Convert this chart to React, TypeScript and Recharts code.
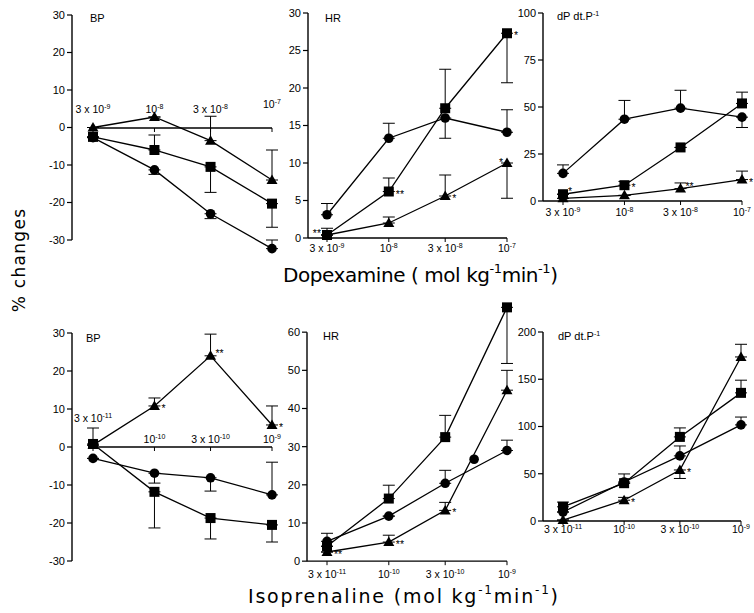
import React from 'react';
import { ComposedChart, Line, XAxis, YAxis, ErrorBar, LabelList, ReferenceLine } from 'recharts';

// ---------- Dopexamine (top row) ----------
const dopexamineDoses = [3e-9, 1e-8, 3e-8, 1e-7];
const dopexamineTickPrefix = ['3 x 10', '10', '3 x 10', '10'];
const dopexamineTickExponent = ['-9', '-8', '-8', '-7'];

const dopaBpCircle = [-2.7, -11.3, -23, -32.3];
const dopaBpCircleErr = [[0, 0], [1.2, 0], [1.3, 0], [0, 2.3]];
const dopaBpSquare = [-2.5, -6, -10.5, -20.3];
const dopaBpSquareErr = [[0, 0], [0, 4], [6.8, 0], [6.3, 0]];
const dopaBpTriangle = [0, 2.8, -3.5, -14];
const dopaBpTriangleErr = [[0, 0], [0, 0], [0, 6.5], [0, 8]];
const dopaBpCircleSig = ['', '', '', ''];
const dopaBpSquareSig = ['', '', '', ''];
const dopaBpTriangleSig = ['', '', '', ''];

const dopaHrCircle = [3.1, 13.3, 16, 14.1];
const dopaHrCircleErr = [[0, 1.5], [0, 2], [2.7, 0], [0, 3]];
const dopaHrSquare = [0.4, 6.2, 17.3, 27.3];
const dopaHrSquareErr = [[0, 0.9], [0, 1.8], [0, 5.2], [6.6, 0]];
const dopaHrTriangle = [0.4, 2, 5.6, 10];
const dopaHrTriangleErr = [[0, 0], [0, 0.8], [0, 2.8], [4.7, 0]];
const dopaHrCircleSig = ['', '', '', ''];
const dopaHrSquareSig = ['**', '**', '', '*'];
const dopaHrTriangleSig = ['', '', '*', '*'];

const dopaDpCircle = [14.7, 43.5, 49.4, 44.6];
const dopaDpCircleErr = [[0, 4.5], [0, 10], [0, 9.5], [5.5, 0]];
const dopaDpSquare = [3.6, 8.4, 28.5, 51.9];
const dopaDpSquareErr = [[0, 0], [0, 2], [0, 0], [0, 6]];
const dopaDpTriangle = [1.4, 3, 6.6, 11.4];
const dopaDpTriangleErr = [[0, 0], [0, 0], [0, 3], [0, 4.5]];
const dopaDpCircleSig = ['', '', '', ''];
const dopaDpSquareSig = ['*', '*', '', ''];
const dopaDpTriangleSig = ['', '', '**', '*'];

// ---------- Isoprenaline (bottom row) ----------
const isoprenalineDoses = [3e-11, 1e-10, 3e-10, 1e-9];
const isoprenalineTickPrefix = ['3 x 10', '10', '3 x 10', '10'];
const isoprenalineTickExponent = ['-11', '-10', '-10', '-9'];

const isoBpCircle = [-3, -6.9, -8.1, -12.6];
const isoBpCircleErr = [[0, 0], [2.6, 0], [3.5, 0], [0, 8.6]];
const isoBpSquare = [0.8, -11.8, -18.7, -20.5];
const isoBpSquareErr = [[0, 4.2], [9.5, 0], [5.5, 0], [4.5, 0]];
const isoBpTriangle = [0.5, 10.8, 24, 5.8];
const isoBpTriangleErr = [[0, 0], [0, 2.1], [0, 5.7], [0, 5]];
const isoBpCircleSig = ['', '', '', ''];
const isoBpSquareSig = ['', '', '', ''];
const isoBpTriangleSig = ['', '*', '**', '*'];

const isoHrCircle = [5.2, 11.8, 20.4, 29];
const isoHrCircleErr = [[0, 2.1], [0, 0], [0, 3.4], [0, 2.7]];
const isoHrSquare = [3.9, 16.4, 32.5, 66.5];
const isoHrSquareErr = [[0, 0], [0, 3.5], [0, 5.7], [14.7, 0]];
const isoHrTriangle = [2.4, 5, 13.3, 44.8];
const isoHrTriangleErr = [[0, 0], [0, 1.8], [0, 2.1], [0, 5.2]];
const isoHrCircleSig = ['', '', '', ''];
const isoHrSquareSig = ['', '', '', ''];
const isoHrTriangleSig = ['**', '**', '*', ''];
const isoHrStrayDose = [5.27e-10];
const isoHrStrayCircle = [26.7];

const isoDpCircle = [9.5, 41.3, 68.9, 101.7];
const isoDpCircleErr = [[0, 0], [0, 8.5], [0, 10.5], [0, 8.3]];
const isoDpSquare = [15, 40, 89, 135.6];
const isoDpSquareErr = [[0, 5], [0, 0], [0, 9.5], [0, 13.4]];
const isoDpTriangle = [1, 22, 54, 173.6];
const isoDpTriangleErr = [[0, 0], [0, 3], [9, 0], [0, 13.4]];
const isoDpCircleSig = ['', '', '', ''];
const isoDpSquareSig = ['', '', '', ''];
const isoDpTriangleSig = ['', '*', '*', ''];

const bpTicks = [-30, -20, -10, 0, 10, 20, 30];
const dopaHrTicks = [0, 5, 10, 15, 20, 25, 30];
const dopaDpTicks = [0, 25, 50, 75, 100];
const isoHrTicks = [0, 10, 20, 30, 40, 50, 60];
const isoDpTicks = [0, 50, 100, 150, 200];

function buildRows(doses, c, cE, cS, s, sE, sS, t, tE, tS) {
  return doses.map((dose, i) => ({
    dose,
    circle: c[i], circleErr: cE[i], circleSig: cS[i],
    square: s[i], squareErr: sE[i], squareSig: sS[i],
    triangle: t[i], triangleErr: tE[i], triangleSig: tS[i],
  }));
}

const FONT = 'Liberation Sans, Arial, sans-serif';

function makeDot(shape) {
  return (props) => {
    const { cx, cy, index } = props;
    const k = `${shape}-${index}`;
    if (cx == null || cy == null || Number.isNaN(cy)) return <g key={k} />;
    if (shape === 'circle') return <circle key={k} cx={cx} cy={cy} r={4.8} fill="#000" />;
    if (shape === 'square') return <rect key={k} x={cx - 5} y={cy - 5} width={10} height={10} fill="#000" />;
    return <polygon key={k} points={`${cx},${cy - 5.5} ${cx + 5.5},${cy + 4} ${cx - 5.5},${cy + 4}`} fill="#000" />;
  };
}

function makeSig(series, placement) {
  return (props) => {
    const { x, y, value, index } = props;
    if (!value || x == null || y == null) return null;
    const pos = (placement && placement[`${series}-${index}`]) || 'right';
    let tx = x + 7, ty = y + 6, anchor = 'start';
    if (pos === 'left') { tx = x - 6; ty = y + 2; anchor = 'end'; }
    if (pos === 'upperLeft') { tx = x - 4; ty = y + 3; anchor = 'end'; }
    if (pos === 'upperRight') { tx = x + 5; ty = y + 1; }
    return (
      <text x={tx} y={ty} textAnchor={anchor} fontSize={10.5} fontFamily={FONT} fill="#000">{value}</text>
    );
  };
}

function DoseTick(props) {
  const { x, y, payload, doses, prefixes, exps, mode, baseline, overrides, tickSize } = props;
  const i = doses.findIndex((d) => Math.abs(d - payload.value) / d < 1e-6);
  if (i < 0) return <g />;
  const axisY = y - tickSize;
  const off = overrides && overrides[i] != null ? overrides[i] : baseline;
  return (
    <g>
      {mode === 'zero' && <line x1={x} y1={axisY} x2={x} y2={axisY + 4} stroke="#000" strokeWidth={1} />}
      <text x={x} y={axisY + off} textAnchor="middle" fontSize={10.5} fontFamily={FONT} fill="#000">
        <tspan>{prefixes[i]}</tspan>
        <tspan dy={-4} fontSize={7}>{exps[i]}</tspan>
      </text>
    </g>
  );
}

const YW = 40;
const MR = 16;

function Panel(p) {
  const first = p.doses[0];
  const hi = p.doses[p.doses.length - 1];
  const ppd = (p.lastX - p.firstX) / (Math.log10(hi) - Math.log10(first));
  const lo = Math.pow(10, Math.log10(first) - (p.firstX - p.axisX) / ppd);
  const [tMin, tMax] = [p.yTicks[0], p.yTicks[p.yTicks.length - 1]];
  const pxPerUnit = (p.tickBotPx - p.tickTopPx) / (tMax - tMin);
  const plotTop = p.tickTopPx - (p.yDomain[1] - tMax) * pxPerUnit;
  const plotBot = p.tickBotPx + (tMin - p.yDomain[0]) * pxPerUnit;
  const plotW = p.lastX - p.axisX;
  const MT = 10;
  const bottomAxisH = p.xMode === 'bottom' ? 32 : 0;
  const MB = p.xMode === 'bottom' ? 0 : 10;
  const width = YW + plotW + MR;
  const height = MT + (plotBot - plotTop) + bottomAxisH + MB;

  const zeroY = p.tickTopPx + (tMax - 0) * pxPerUnit;
  const ovStart = p.firstX - 4;
  const lo2 = Math.pow(10, Math.log10(first) - (p.firstX - ovStart) / ppd);
  const OVL = 40;

  const series = [
    { key: 'circle' },
    { key: 'square' },
    { key: 'triangle' },
  ];

  return (
    <>
      <div style={{ position: 'absolute', left: p.axisX - YW, top: plotTop - MT }}>
        <ComposedChart width={width} height={height} data={p.rows}
          margin={{ top: MT, right: MR, left: 0, bottom: MB }} style={{ overflow: 'visible' }}>
          <XAxis dataKey="dose" type="number" scale="log" domain={[lo, hi]} ticks={p.doses}
            hide={p.xMode !== 'bottom'} height={bottomAxisH} interval={0}
            axisLine={{ stroke: '#000', strokeWidth: 1.4 }} tickLine={{ stroke: '#000', strokeWidth: 1 }}
            tickSize={4} tickMargin={0}
            tick={(tp) => (
              <DoseTick {...tp} doses={p.doses} prefixes={p.tickPrefix} exps={p.tickExp}
                mode="bottom" baseline={p.labelBaseline} overrides={p.labelOverrides} tickSize={4} />
            )} />
          <YAxis type="number" domain={p.yDomain} ticks={p.yTicks} width={YW} interval={0}
            axisLine={false} tickSize={5} tickMargin={2}
            tickLine={{ stroke: '#000', strokeWidth: 1.2 }}
            tick={{ fontSize: 11, fill: '#000', fontFamily: FONT }} />
          <ReferenceLine segment={[{ x: lo, y: tMin }, { x: lo, y: tMax }]} stroke="#000" strokeWidth={1.4} ifOverflow="visible" />
          {series.map((s) => (
            <Line key={s.key} dataKey={s.key} stroke="#000" strokeWidth={1.3} dot={makeDot(s.key)}
              activeDot={false} isAnimationActive={false} legendType="none">
              <ErrorBar dataKey={`${s.key}Err`} width={6} stroke="#000" strokeWidth={1} direction="y" isAnimationActive={false} />
              <LabelList dataKey={`${s.key}Sig`} content={makeSig(s.key, p.sigPlacement)} />
            </Line>
          ))}
          {p.stray && (
            <Line data={p.stray} dataKey="circle" stroke="none" dot={makeDot('circle')}
              activeDot={false} isAnimationActive={false} legendType="none" />
          )}
        </ComposedChart>
      </div>
      {p.xMode === 'zero' && (
        <div style={{ position: 'absolute', left: ovStart - OVL, top: zeroY - 40 }}>
          <ComposedChart width={OVL + (p.lastX - ovStart) + 20} height={60} data={p.rows}
            margin={{ top: 5, right: 20, left: OVL, bottom: 15 }}>
            <XAxis orientation="top" dataKey="dose" type="number" scale="log" domain={[lo2, hi]} ticks={p.doses}
              height={35} interval={0} tickSize={0} tickMargin={0} tickLine={false}
              axisLine={{ stroke: '#000', strokeWidth: 1.3 }}
              tick={(tp) => (
                <DoseTick {...tp} doses={p.doses} prefixes={p.tickPrefix} exps={p.tickExp}
                  mode="zero" baseline={p.labelBaseline} overrides={p.labelOverrides} tickSize={0} />
              )} />
            <YAxis hide domain={[0, 1]} />
          </ComposedChart>
        </div>
      )}
    </>
  );
}

const dopaBpRows = buildRows(dopexamineDoses, dopaBpCircle, dopaBpCircleErr, dopaBpCircleSig, dopaBpSquare, dopaBpSquareErr, dopaBpSquareSig, dopaBpTriangle, dopaBpTriangleErr, dopaBpTriangleSig);
const dopaHrRows = buildRows(dopexamineDoses, dopaHrCircle, dopaHrCircleErr, dopaHrCircleSig, dopaHrSquare, dopaHrSquareErr, dopaHrSquareSig, dopaHrTriangle, dopaHrTriangleErr, dopaHrTriangleSig);
const dopaDpRows = buildRows(dopexamineDoses, dopaDpCircle, dopaDpCircleErr, dopaDpCircleSig, dopaDpSquare, dopaDpSquareErr, dopaDpSquareSig, dopaDpTriangle, dopaDpTriangleErr, dopaDpTriangleSig);
const isoBpRows = buildRows(isoprenalineDoses, isoBpCircle, isoBpCircleErr, isoBpCircleSig, isoBpSquare, isoBpSquareErr, isoBpSquareSig, isoBpTriangle, isoBpTriangleErr, isoBpTriangleSig);
const isoHrRows = buildRows(isoprenalineDoses, isoHrCircle, isoHrCircleErr, isoHrCircleSig, isoHrSquare, isoHrSquareErr, isoHrSquareSig, isoHrTriangle, isoHrTriangleErr, isoHrTriangleSig);
const isoDpRows = buildRows(isoprenalineDoses, isoDpCircle, isoDpCircleErr, isoDpCircleSig, isoDpSquare, isoDpSquareErr, isoDpSquareSig, isoDpTriangle, isoDpTriangleErr, isoDpTriangleSig);
const isoHrStrayRows = isoHrStrayDose.map((dose, i) => ({ dose, circle: isoHrStrayCircle[i] }));

const TITLE_FONT = 'DejaVu Sans, sans-serif';

export default function App() {
  return (
    <div style={{ position: 'absolute', left: 0, top: 0, width: 754, height: 613, background: '#fff', overflow: 'hidden' }}>
      <Panel rows={dopaBpRows} doses={dopexamineDoses} tickPrefix={dopexamineTickPrefix} tickExp={dopexamineTickExponent}
        axisX={72} firstX={93} lastX={272} tickTopPx={15} tickBotPx={240} yTicks={bpTicks} yDomain={[-35, 30]}
        xMode="zero" labelBaseline={-15} labelOverrides={{ 3: -20 }} />
      <Panel rows={dopaHrRows} doses={dopexamineDoses} tickPrefix={dopexamineTickPrefix} tickExp={dopexamineTickExponent}
        axisX={308} firstX={327} lastX={507} tickTopPx={13} tickBotPx={238} yTicks={dopaHrTicks} yDomain={[0, 30]}
        xMode="bottom" labelBaseline={14} sigPlacement={{ 'square-0': 'left', 'triangle-3': 'upperLeft' }} />
      <Panel rows={dopaDpRows} doses={dopexamineDoses} tickPrefix={dopexamineTickPrefix} tickExp={dopexamineTickExponent}
        axisX={543} firstX={563} lastX={742} tickTopPx={13} tickBotPx={201} yTicks={dopaDpTicks} yDomain={[0, 100]}
        xMode="bottom" labelBaseline={15} sigPlacement={{ 'square-0': 'upperRight', 'triangle-2': 'upperRight' }} />
      <Panel rows={isoBpRows} doses={isoprenalineDoses} tickPrefix={isoprenalineTickPrefix} tickExp={isoprenalineTickExponent}
        axisX={72} firstX={93} lastX={272} tickTopPx={333} tickBotPx={561} yTicks={bpTicks} yDomain={[-30, 30]}
        xMode="zero" labelBaseline={-4} labelOverrides={{ 0: -25 }} sigPlacement={{ 'triangle-2': 'upperRight' }} />
      <Panel rows={isoHrRows} doses={isoprenalineDoses} tickPrefix={isoprenalineTickPrefix} tickExp={isoprenalineTickExponent}
        axisX={307} firstX={327} lastX={507} tickTopPx={332} tickBotPx={561} yTicks={isoHrTicks} yDomain={[0, 70]}
        xMode="bottom" labelBaseline={17} stray={isoHrStrayRows} />
      <Panel rows={isoDpRows} doses={isoprenalineDoses} tickPrefix={isoprenalineTickPrefix} tickExp={isoprenalineTickExponent}
        axisX={543} firstX={563} lastX={741} tickTopPx={332} tickBotPx={521} yTicks={isoDpTicks} yDomain={[0, 200]}
        xMode="bottom" labelBaseline={12} />

      <svg width={754} height={613} style={{ position: 'absolute', left: 0, top: 0, pointerEvents: 'none' }}>
        <g fontFamily={FONT} fontSize={11} fill="#000">
          <text x={90} y={22}>BP</text>
          <text x={86} y={342}>BP</text>
          <text x={325} y={22}>HR</text>
          <text x={323} y={340}>HR</text>
          <text x={557} y={20}>dP dt.P<tspan dy={-4} fontSize={7}>-1</tspan></text>
          <text x={558} y={340}>dP dt.P<tspan dy={-4} fontSize={7}>-1</tspan></text>
        </g>
        <text transform="rotate(-90 25 260)" x={25} y={260} textAnchor="middle" fontSize={17}
          letterSpacing={1.3} fontFamily={TITLE_FONT} fill="#000">% changes</text>
        <text x={283} y={282} fontSize={20} fontFamily={TITLE_FONT} fill="#000" textLength={275} lengthAdjust="spacing">
          Dopexamine ( mol kg<tspan dy={-9} fontSize={13}>-1</tspan><tspan dy={9}>min</tspan><tspan dy={-9} fontSize={13}>-1</tspan><tspan dy={9}>)</tspan>
        </text>
        <text x={248} y={603} fontSize={19} fontFamily={TITLE_FONT} fill="#000" textLength={310} lengthAdjust="spacing">
          Isoprenaline (mol kg<tspan dy={-9} fontSize={12}>-1</tspan><tspan dy={9}>min</tspan><tspan dy={-9} fontSize={12}>-1</tspan><tspan dy={9}>)</tspan>
        </text>
      </svg>
    </div>
  );
}
